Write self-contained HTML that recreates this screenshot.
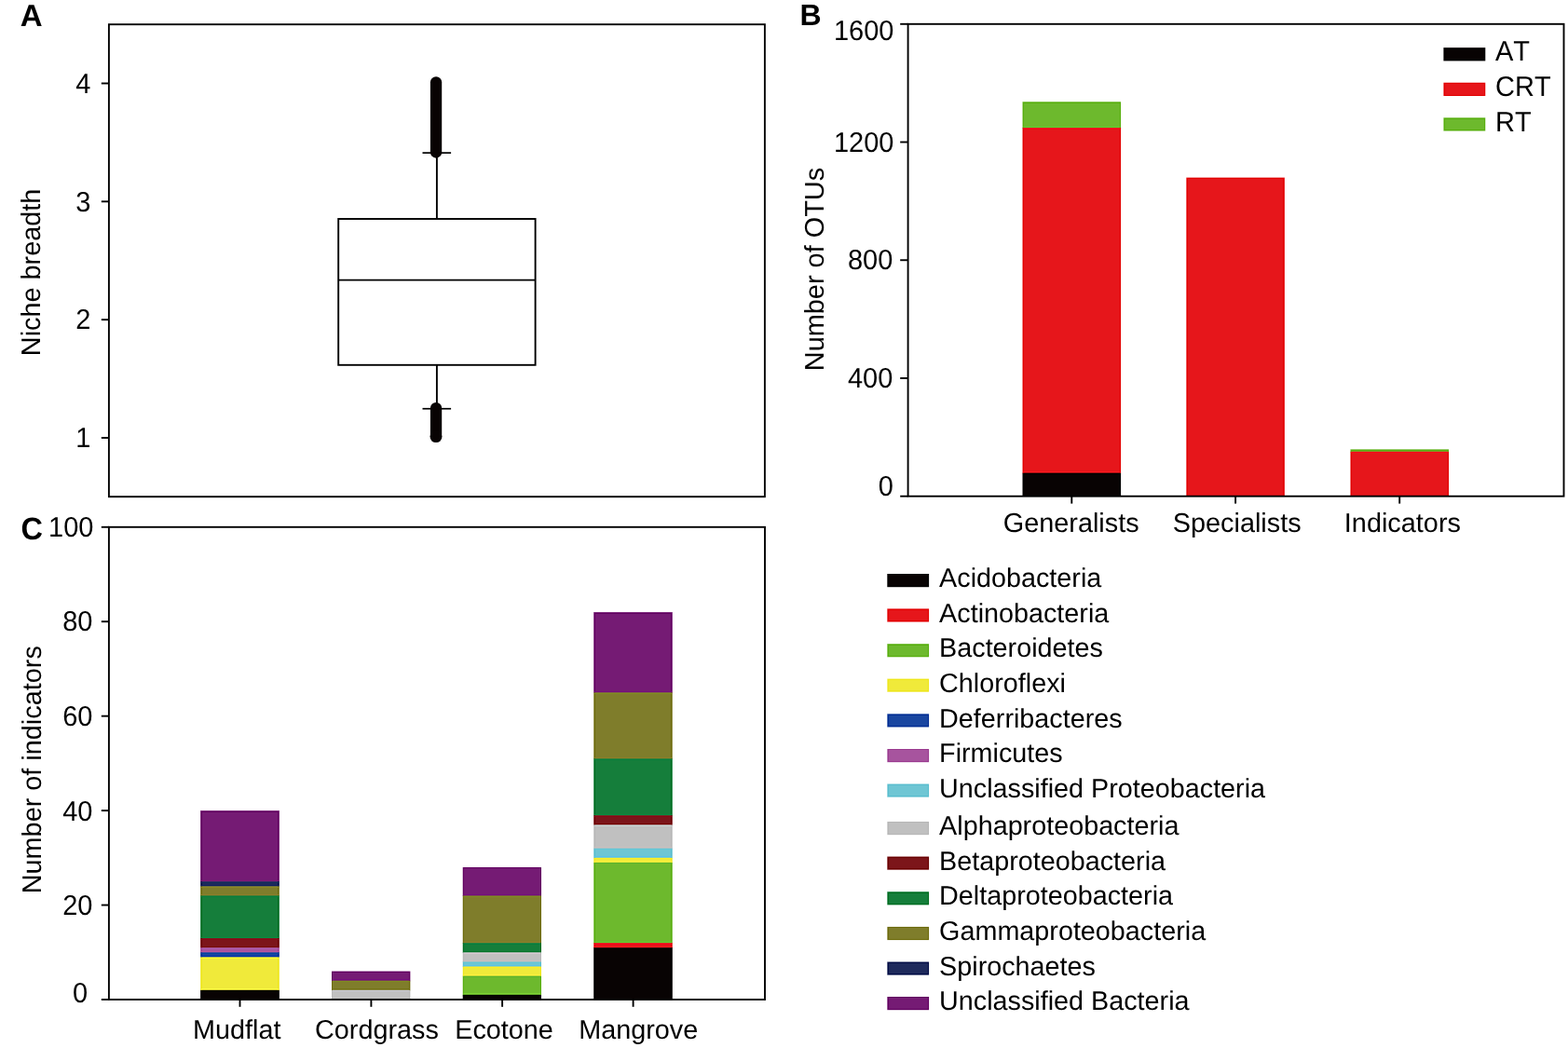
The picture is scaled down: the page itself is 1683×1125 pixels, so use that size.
<!DOCTYPE html>
<html lang="en">
<head>
<meta charset="utf-8">
<title>Figure</title>
<style>
html,body{margin:0;padding:0;background:#fff;}
body{width:1683px;height:1125px;overflow:hidden;}
svg{display:block;font-family:"Liberation Sans",Arial,Helvetica,sans-serif;fill:#000;text-rendering:geometricPrecision;font-kerning:none;font-variant-ligatures:none;}
</style>
</head>
<body>
<svg width="1683" height="1125" viewBox="0 0 1683 1125">
<rect x="0" y="0" width="1683" height="1125" fill="#fff"/>
<g id="panel-a">
<rect x="116.90" y="26.20" width="704.00" height="507.00" fill="none" stroke="#000" stroke-width="1.9"/>
<line x1="108.80" y1="89.50" x2="116.90" y2="89.50" stroke="#000" stroke-width="1.9" stroke-linecap="butt"/>
<text transform="translate(97.30 99.80) scale(1 1.041)" font-size="29" text-anchor="end">4</text>
<line x1="108.80" y1="216.33" x2="116.90" y2="216.33" stroke="#000" stroke-width="1.9" stroke-linecap="butt"/>
<text transform="translate(97.30 226.63) scale(1 1.041)" font-size="29" text-anchor="end">3</text>
<line x1="108.80" y1="343.17" x2="116.90" y2="343.17" stroke="#000" stroke-width="1.9" stroke-linecap="butt"/>
<text transform="translate(97.30 353.47) scale(1 1.041)" font-size="29" text-anchor="end">2</text>
<line x1="108.80" y1="470.00" x2="116.90" y2="470.00" stroke="#000" stroke-width="1.9" stroke-linecap="butt"/>
<text transform="translate(97.30 480.30) scale(1 1.041)" font-size="29" text-anchor="end">1</text>
<text x="43.50" y="382.20" font-size="28.85" transform="rotate(-90 43.50 382.20)">Niche breadth</text>
<text x="21.70" y="27.95" font-size="33" font-weight="bold">A</text>
<rect x="363.2" y="235.0" width="211.4" height="156.8" fill="#fff" stroke="#000" stroke-width="1.9"/>
<line x1="363.20" y1="300.60" x2="574.60" y2="300.60" stroke="#000" stroke-width="1.9" stroke-linecap="butt"/>
<line x1="468.90" y1="164.10" x2="468.90" y2="235.00" stroke="#000" stroke-width="1.9" stroke-linecap="butt"/>
<line x1="468.90" y1="391.80" x2="468.90" y2="438.75" stroke="#000" stroke-width="1.9" stroke-linecap="butt"/>
<line x1="453.50" y1="164.10" x2="484.10" y2="164.10" stroke="#000" stroke-width="1.7" stroke-linecap="butt"/>
<line x1="453.50" y1="438.75" x2="484.10" y2="438.75" stroke="#000" stroke-width="1.7" stroke-linecap="butt"/>
<line x1="468.05" y1="88.35" x2="468.05" y2="163.50" stroke="#080303" stroke-width="12.3" stroke-linecap="round"/>
<line x1="468.05" y1="438.05" x2="468.05" y2="466.00" stroke="#080303" stroke-width="12.3" stroke-linecap="round"/>
<circle cx="468.0" cy="468.55" r="6.5" fill="#080303"/>
</g>
<g id="panel-b">
<rect x="1097.50" y="109.20" width="105.60" height="28.45" fill="#6DB92D"/>
<rect x="1097.50" y="137.05" width="105.60" height="371.25" fill="#E6161B"/>
<rect x="1097.50" y="507.70" width="105.60" height="25.00" fill="#080303"/>
<rect x="1098.00" y="507.70" width="1.00" height="25.00" fill="#000000"/>
<rect x="1202.00" y="507.70" width="1.00" height="25.00" fill="#000000"/>
<rect x="1098.00" y="137.05" width="1.00" height="370.65" fill="#E20000"/>
<rect x="1202.00" y="137.05" width="1.00" height="370.65" fill="#E20000"/>
<rect x="1098.00" y="110.00" width="1.00" height="27.05" fill="#57AE0E"/>
<rect x="1202.00" y="110.00" width="1.00" height="27.05" fill="#57AE0E"/>
<rect x="1098.00" y="110.00" width="105.00" height="1.00" fill="#57AE0E"/>
<rect x="1098.50" y="506.00" width="103.60" height="1.00" fill="#FF191F"/>
<rect x="1098.50" y="508.00" width="103.60" height="1.00" fill="#000000"/>
<rect x="1098.50" y="136.00" width="103.60" height="1.00" fill="#5BD130"/>
<rect x="1098.50" y="138.00" width="103.60" height="1.00" fill="#F80018"/>
<rect x="1273.30" y="190.60" width="105.60" height="342.10" fill="#E6161B"/>
<rect x="1274.00" y="191.00" width="1.00" height="341.70" fill="#E20000"/>
<rect x="1377.00" y="191.00" width="1.00" height="341.70" fill="#E20000"/>
<rect x="1274.00" y="191.00" width="104.00" height="1.00" fill="#E20000"/>
<rect x="1449.45" y="482.30" width="105.60" height="3.10" fill="#6DB92D"/>
<rect x="1449.45" y="484.80" width="105.60" height="47.90" fill="#E6161B"/>
<rect x="1450.00" y="484.80" width="1.00" height="47.90" fill="#E20000"/>
<rect x="1554.00" y="484.80" width="1.00" height="47.90" fill="#E20000"/>
<rect x="1450.00" y="483.00" width="1.00" height="1.80" fill="#57AE0E"/>
<rect x="1554.00" y="483.00" width="1.00" height="1.80" fill="#57AE0E"/>
<rect x="1450.00" y="483.00" width="105.00" height="1.00" fill="#57AE0E"/>
<rect x="1450.45" y="485.00" width="103.60" height="1.00" fill="#F80018"/>
<rect x="974.60" y="25.80" width="703.90" height="506.90" fill="none" stroke="#000" stroke-width="1.9"/>
<line x1="966.20" y1="25.80" x2="974.60" y2="25.80" stroke="#000" stroke-width="1.9" stroke-linecap="butt"/>
<line x1="966.20" y1="152.53" x2="974.60" y2="152.53" stroke="#000" stroke-width="1.9" stroke-linecap="butt"/>
<line x1="966.20" y1="279.25" x2="974.60" y2="279.25" stroke="#000" stroke-width="1.9" stroke-linecap="butt"/>
<line x1="966.20" y1="405.98" x2="974.60" y2="405.98" stroke="#000" stroke-width="1.9" stroke-linecap="butt"/>
<line x1="966.20" y1="532.70" x2="974.60" y2="532.70" stroke="#000" stroke-width="1.9" stroke-linecap="butt"/>
<text transform="translate(959.50 42.90) scale(1 1.041)" font-size="29" text-anchor="end">1600</text>
<text transform="translate(959.50 162.90) scale(1 1.041)" font-size="29" text-anchor="end">1200</text>
<text transform="translate(958.35 289.10) scale(1 1.041)" font-size="29" text-anchor="end">800</text>
<text transform="translate(958.35 416.40) scale(1 1.041)" font-size="29" text-anchor="end">400</text>
<text transform="translate(959.00 532.00) scale(1 1.041)" font-size="29" text-anchor="end">0</text>
<line x1="1150.30" y1="532.70" x2="1150.30" y2="540.60" stroke="#000" stroke-width="1.9" stroke-linecap="butt"/>
<text x="1149.70" y="571.35" font-size="28.85" text-anchor="middle">Generalists</text>
<line x1="1326.10" y1="532.70" x2="1326.10" y2="540.60" stroke="#000" stroke-width="1.9" stroke-linecap="butt"/>
<text x="1327.70" y="571.35" font-size="28.85" text-anchor="middle">Specialists</text>
<line x1="1502.20" y1="532.70" x2="1502.20" y2="540.60" stroke="#000" stroke-width="1.9" stroke-linecap="butt"/>
<text x="1505.40" y="571.35" font-size="28.85" text-anchor="middle">Indicators</text>
<text x="883.80" y="398.20" font-size="28.9" transform="rotate(-90 883.80 398.20)">Number of OTUs</text>
<text x="858.50" y="27.10" font-size="32" font-weight="bold">B</text>
<rect x="1549.40" y="51.10" width="44.90" height="14.30" fill="#080303"/>
<rect x="1550.00" y="52.00" width="1.00" height="13.00" fill="#000000"/>
<rect x="1593.00" y="52.00" width="1.00" height="13.00" fill="#000000"/>
<rect x="1550.00" y="52.00" width="44.00" height="1.00" fill="#000000"/>
<rect x="1550.00" y="64.00" width="44.00" height="1.00" fill="#000000"/>
<text transform="translate(1605.00 65.40) scale(1 1.041)" font-size="29">AT</text>
<rect x="1549.40" y="88.70" width="44.90" height="14.30" fill="#E6161B"/>
<rect x="1550.00" y="89.00" width="1.00" height="14.00" fill="#E20000"/>
<rect x="1593.00" y="89.00" width="1.00" height="14.00" fill="#E20000"/>
<rect x="1550.00" y="89.00" width="44.00" height="1.00" fill="#E20000"/>
<rect x="1550.00" y="102.00" width="44.00" height="1.00" fill="#E20000"/>
<text transform="translate(1605.00 103.00) scale(1 1.041)" font-size="29">CRT</text>
<rect x="1549.40" y="126.30" width="44.90" height="14.30" fill="#6DB92D"/>
<rect x="1550.00" y="127.00" width="1.00" height="13.00" fill="#57AE0E"/>
<rect x="1593.00" y="127.00" width="1.00" height="13.00" fill="#57AE0E"/>
<rect x="1550.00" y="127.00" width="44.00" height="1.00" fill="#57AE0E"/>
<rect x="1550.00" y="139.00" width="44.00" height="1.00" fill="#57AE0E"/>
<text transform="translate(1605.00 140.60) scale(1 1.041)" font-size="29">RT</text>
</g>
<g id="panel-c">
<rect x="215.10" y="870.12" width="84.80" height="76.68" fill="#751B74"/>
<rect x="215.10" y="946.20" width="84.80" height="5.67" fill="#1E2A5C"/>
<rect x="215.10" y="951.27" width="84.80" height="10.74" fill="#7F7D2B"/>
<rect x="215.10" y="961.42" width="84.80" height="46.25" fill="#157E3B"/>
<rect x="215.10" y="1007.06" width="84.80" height="10.74" fill="#7C151A"/>
<rect x="215.10" y="1017.21" width="84.80" height="5.67" fill="#A7549E"/>
<rect x="215.10" y="1022.28" width="84.80" height="5.67" fill="#1946A0"/>
<rect x="215.10" y="1027.35" width="84.80" height="36.10" fill="#F0EA3A"/>
<rect x="215.10" y="1062.86" width="84.80" height="10.14" fill="#080303"/>
<rect x="216.00" y="1062.86" width="1.00" height="10.14" fill="#000000"/>
<rect x="298.00" y="1062.86" width="1.00" height="10.14" fill="#000000"/>
<rect x="216.00" y="1027.35" width="1.00" height="35.50" fill="#EEE71C"/>
<rect x="298.00" y="1027.35" width="1.00" height="35.50" fill="#EEE71C"/>
<rect x="216.00" y="1022.28" width="1.00" height="5.07" fill="#002A92"/>
<rect x="298.00" y="1022.28" width="1.00" height="5.07" fill="#002A92"/>
<rect x="216.00" y="1017.21" width="1.00" height="5.07" fill="#9A3A8F"/>
<rect x="298.00" y="1017.21" width="1.00" height="5.07" fill="#9A3A8F"/>
<rect x="216.00" y="1007.06" width="1.00" height="10.14" fill="#680000"/>
<rect x="298.00" y="1007.06" width="1.00" height="10.14" fill="#680000"/>
<rect x="216.00" y="961.42" width="1.00" height="45.65" fill="#006B1E"/>
<rect x="298.00" y="961.42" width="1.00" height="45.65" fill="#006B1E"/>
<rect x="216.00" y="951.27" width="1.00" height="10.14" fill="#6C6A0B"/>
<rect x="298.00" y="951.27" width="1.00" height="10.14" fill="#6C6A0B"/>
<rect x="216.00" y="946.20" width="1.00" height="5.07" fill="#000A44"/>
<rect x="298.00" y="946.20" width="1.00" height="5.07" fill="#000A44"/>
<rect x="216.00" y="871.00" width="1.00" height="75.20" fill="#60005F"/>
<rect x="298.00" y="871.00" width="1.00" height="75.20" fill="#60005F"/>
<rect x="216.00" y="871.00" width="83.00" height="1.00" fill="#60005F"/>
<rect x="216.10" y="1061.00" width="82.80" height="1.00" fill="#FFFF42"/>
<rect x="216.10" y="1063.00" width="82.80" height="1.00" fill="#000000"/>
<rect x="216.10" y="1026.00" width="82.80" height="1.00" fill="#002DAF"/>
<rect x="216.10" y="1028.00" width="82.80" height="1.00" fill="#FFFF2B"/>
<rect x="216.10" y="1021.00" width="82.80" height="1.00" fill="#BC569E"/>
<rect x="216.10" y="1023.00" width="82.80" height="1.00" fill="#0444A0"/>
<rect x="216.10" y="1016.00" width="82.80" height="1.00" fill="#760C06"/>
<rect x="216.10" y="1018.00" width="82.80" height="1.00" fill="#AD5DB2"/>
<rect x="216.10" y="1006.00" width="82.80" height="1.00" fill="#068E40"/>
<rect x="216.10" y="1008.00" width="82.80" height="1.00" fill="#8B0515"/>
<rect x="216.10" y="960.00" width="82.80" height="1.00" fill="#8F7D29"/>
<rect x="216.10" y="962.00" width="82.80" height="1.00" fill="#057E3D"/>
<rect x="216.10" y="950.00" width="82.80" height="1.00" fill="#0F1E63"/>
<rect x="216.10" y="952.00" width="82.80" height="1.00" fill="#8E8924"/>
<rect x="216.10" y="945.00" width="82.80" height="1.00" fill="#821978"/>
<rect x="216.10" y="947.00" width="82.80" height="1.00" fill="#112C58"/>
<rect x="356.00" y="1042.57" width="84.40" height="10.74" fill="#751B74"/>
<rect x="356.00" y="1052.71" width="84.40" height="10.74" fill="#7F7D2B"/>
<rect x="356.00" y="1062.86" width="84.40" height="10.14" fill="#C0C0C0"/>
<rect x="356.00" y="1062.86" width="1.00" height="10.14" fill="#B7B7B7"/>
<rect x="439.00" y="1062.86" width="1.00" height="10.14" fill="#B7B7B7"/>
<rect x="356.00" y="1052.71" width="1.00" height="10.14" fill="#6C6A0B"/>
<rect x="439.00" y="1052.71" width="1.00" height="10.14" fill="#6C6A0B"/>
<rect x="356.00" y="1043.00" width="1.00" height="9.71" fill="#60005F"/>
<rect x="439.00" y="1043.00" width="1.00" height="9.71" fill="#60005F"/>
<rect x="356.00" y="1043.00" width="84.00" height="1.00" fill="#60005F"/>
<rect x="357.00" y="1061.00" width="82.40" height="1.00" fill="#757315"/>
<rect x="357.00" y="1063.00" width="82.40" height="1.00" fill="#CACAD6"/>
<rect x="357.00" y="1051.00" width="82.40" height="1.00" fill="#740C7F"/>
<rect x="357.00" y="1053.00" width="82.40" height="1.00" fill="#808C20"/>
<rect x="496.70" y="930.98" width="84.30" height="31.03" fill="#751B74"/>
<rect x="496.70" y="961.42" width="84.30" height="51.32" fill="#7F7D2B"/>
<rect x="496.70" y="1012.14" width="84.30" height="10.74" fill="#157E3B"/>
<rect x="496.70" y="1022.28" width="84.30" height="10.74" fill="#C0C0C0"/>
<rect x="496.70" y="1032.42" width="84.30" height="5.67" fill="#6EC6D4"/>
<rect x="496.70" y="1037.50" width="84.30" height="10.74" fill="#F0EA3A"/>
<rect x="496.70" y="1047.64" width="84.30" height="20.89" fill="#6DB92D"/>
<rect x="496.70" y="1067.93" width="84.30" height="5.07" fill="#080303"/>
<rect x="497.00" y="1067.93" width="1.00" height="5.07" fill="#000000"/>
<rect x="580.00" y="1067.93" width="1.00" height="5.07" fill="#000000"/>
<rect x="497.00" y="1047.64" width="1.00" height="20.29" fill="#57AE0E"/>
<rect x="580.00" y="1047.64" width="1.00" height="20.29" fill="#57AE0E"/>
<rect x="497.00" y="1037.50" width="1.00" height="10.14" fill="#EEE71C"/>
<rect x="580.00" y="1037.50" width="1.00" height="10.14" fill="#EEE71C"/>
<rect x="497.00" y="1032.42" width="1.00" height="5.07" fill="#58BDCE"/>
<rect x="580.00" y="1032.42" width="1.00" height="5.07" fill="#58BDCE"/>
<rect x="497.00" y="1022.28" width="1.00" height="10.14" fill="#B7B7B7"/>
<rect x="580.00" y="1022.28" width="1.00" height="10.14" fill="#B7B7B7"/>
<rect x="497.00" y="1012.14" width="1.00" height="10.14" fill="#006B1E"/>
<rect x="580.00" y="1012.14" width="1.00" height="10.14" fill="#006B1E"/>
<rect x="497.00" y="961.42" width="1.00" height="50.72" fill="#6C6A0B"/>
<rect x="580.00" y="961.42" width="1.00" height="50.72" fill="#6C6A0B"/>
<rect x="497.00" y="931.00" width="1.00" height="30.42" fill="#60005F"/>
<rect x="580.00" y="931.00" width="1.00" height="30.42" fill="#60005F"/>
<rect x="497.00" y="931.00" width="84.00" height="1.00" fill="#60005F"/>
<rect x="497.70" y="1066.00" width="82.30" height="1.00" fill="#7CD433"/>
<rect x="497.70" y="1068.00" width="82.30" height="1.00" fill="#000000"/>
<rect x="497.70" y="1046.00" width="82.30" height="1.00" fill="#FFF13C"/>
<rect x="497.70" y="1048.00" width="82.30" height="1.00" fill="#59B22B"/>
<rect x="497.70" y="1036.00" width="82.30" height="1.00" fill="#5AC1EB"/>
<rect x="497.70" y="1038.00" width="82.30" height="1.00" fill="#FFEF23"/>
<rect x="497.70" y="1031.00" width="82.30" height="1.00" fill="#CCBFBD"/>
<rect x="497.70" y="1033.00" width="82.30" height="1.00" fill="#62C7D7"/>
<rect x="497.70" y="1021.00" width="82.30" height="1.00" fill="#007427"/>
<rect x="497.70" y="1023.00" width="82.30" height="1.00" fill="#DACAD4"/>
<rect x="497.70" y="1011.00" width="82.30" height="1.00" fill="#8F7D29"/>
<rect x="497.70" y="1013.00" width="82.30" height="1.00" fill="#057E3D"/>
<rect x="497.70" y="960.00" width="82.30" height="1.00" fill="#740C7F"/>
<rect x="497.70" y="962.00" width="82.30" height="1.00" fill="#808C20"/>
<rect x="637.20" y="657.10" width="84.60" height="86.82" fill="#751B74"/>
<rect x="637.20" y="743.32" width="84.60" height="71.61" fill="#7F7D2B"/>
<rect x="637.20" y="814.33" width="84.60" height="61.46" fill="#157E3B"/>
<rect x="637.20" y="875.19" width="84.60" height="10.74" fill="#7C151A"/>
<rect x="637.20" y="885.34" width="84.60" height="25.96" fill="#C0C0C0"/>
<rect x="637.20" y="910.70" width="84.60" height="10.74" fill="#6EC6D4"/>
<rect x="637.20" y="920.84" width="84.60" height="5.67" fill="#F0EA3A"/>
<rect x="637.20" y="925.91" width="84.60" height="86.82" fill="#6DB92D"/>
<rect x="637.20" y="1012.14" width="84.60" height="5.67" fill="#E6161B"/>
<rect x="637.20" y="1017.21" width="84.60" height="55.79" fill="#080303"/>
<rect x="638.00" y="1017.21" width="1.00" height="55.79" fill="#000000"/>
<rect x="720.00" y="1017.21" width="1.00" height="55.79" fill="#000000"/>
<rect x="638.00" y="1012.14" width="1.00" height="5.07" fill="#E20000"/>
<rect x="720.00" y="1012.14" width="1.00" height="5.07" fill="#E20000"/>
<rect x="638.00" y="925.91" width="1.00" height="86.22" fill="#57AE0E"/>
<rect x="720.00" y="925.91" width="1.00" height="86.22" fill="#57AE0E"/>
<rect x="638.00" y="920.84" width="1.00" height="5.07" fill="#EEE71C"/>
<rect x="720.00" y="920.84" width="1.00" height="5.07" fill="#EEE71C"/>
<rect x="638.00" y="910.70" width="1.00" height="10.14" fill="#58BDCE"/>
<rect x="720.00" y="910.70" width="1.00" height="10.14" fill="#58BDCE"/>
<rect x="638.00" y="885.34" width="1.00" height="25.36" fill="#B7B7B7"/>
<rect x="720.00" y="885.34" width="1.00" height="25.36" fill="#B7B7B7"/>
<rect x="638.00" y="875.19" width="1.00" height="10.14" fill="#680000"/>
<rect x="720.00" y="875.19" width="1.00" height="10.14" fill="#680000"/>
<rect x="638.00" y="814.33" width="1.00" height="60.86" fill="#006B1E"/>
<rect x="720.00" y="814.33" width="1.00" height="60.86" fill="#006B1E"/>
<rect x="638.00" y="743.32" width="1.00" height="71.01" fill="#6C6A0B"/>
<rect x="720.00" y="743.32" width="1.00" height="71.01" fill="#6C6A0B"/>
<rect x="638.00" y="658.00" width="1.00" height="85.32" fill="#60005F"/>
<rect x="720.00" y="658.00" width="1.00" height="85.32" fill="#60005F"/>
<rect x="638.00" y="658.00" width="83.00" height="1.00" fill="#60005F"/>
<rect x="638.20" y="1016.00" width="82.60" height="1.00" fill="#FF191F"/>
<rect x="638.20" y="1018.00" width="82.60" height="1.00" fill="#000000"/>
<rect x="638.20" y="1011.00" width="82.60" height="1.00" fill="#5BD130"/>
<rect x="638.20" y="1013.00" width="82.60" height="1.00" fill="#F80018"/>
<rect x="638.20" y="924.00" width="82.60" height="1.00" fill="#FFF13C"/>
<rect x="638.20" y="926.00" width="82.60" height="1.00" fill="#59B22B"/>
<rect x="638.20" y="919.00" width="82.60" height="1.00" fill="#5AC1EB"/>
<rect x="638.20" y="921.00" width="82.60" height="1.00" fill="#FFEF23"/>
<rect x="638.20" y="909.00" width="82.60" height="1.00" fill="#CCBFBD"/>
<rect x="638.20" y="911.00" width="82.60" height="1.00" fill="#62C7D7"/>
<rect x="638.20" y="884.00" width="82.60" height="1.00" fill="#720001"/>
<rect x="638.20" y="886.00" width="82.60" height="1.00" fill="#CADAD9"/>
<rect x="638.20" y="874.00" width="82.60" height="1.00" fill="#068E40"/>
<rect x="638.20" y="876.00" width="82.60" height="1.00" fill="#8B0515"/>
<rect x="638.20" y="813.00" width="82.60" height="1.00" fill="#8F7D29"/>
<rect x="638.20" y="815.00" width="82.60" height="1.00" fill="#057E3D"/>
<rect x="638.20" y="742.00" width="82.60" height="1.00" fill="#740C7F"/>
<rect x="638.20" y="744.00" width="82.60" height="1.00" fill="#808C20"/>
<rect x="116.90" y="565.80" width="704.10" height="507.20" fill="none" stroke="#000" stroke-width="1.9"/>
<line x1="108.80" y1="565.80" x2="116.90" y2="565.80" stroke="#000" stroke-width="1.9" stroke-linecap="butt"/>
<line x1="108.80" y1="667.24" x2="116.90" y2="667.24" stroke="#000" stroke-width="1.9" stroke-linecap="butt"/>
<line x1="108.80" y1="768.68" x2="116.90" y2="768.68" stroke="#000" stroke-width="1.9" stroke-linecap="butt"/>
<line x1="108.80" y1="870.12" x2="116.90" y2="870.12" stroke="#000" stroke-width="1.9" stroke-linecap="butt"/>
<line x1="108.80" y1="971.56" x2="116.90" y2="971.56" stroke="#000" stroke-width="1.9" stroke-linecap="butt"/>
<line x1="108.80" y1="1073.00" x2="116.90" y2="1073.00" stroke="#000" stroke-width="1.9" stroke-linecap="butt"/>
<text transform="translate(100.40 576.15) scale(1 1.041)" font-size="29" text-anchor="end">100</text>
<text transform="translate(99.40 677.10) scale(1 1.041)" font-size="29" text-anchor="end">80</text>
<text transform="translate(99.40 778.60) scale(1 1.041)" font-size="29" text-anchor="end">60</text>
<text transform="translate(99.50 880.70) scale(1 1.041)" font-size="29" text-anchor="end">40</text>
<text transform="translate(99.50 981.70) scale(1 1.041)" font-size="29" text-anchor="end">20</text>
<text transform="translate(94.20 1076.40) scale(1 1.041)" font-size="29" text-anchor="end">0</text>
<line x1="257.50" y1="1073.00" x2="257.50" y2="1080.80" stroke="#000" stroke-width="1.9" stroke-linecap="butt"/>
<text x="207.00" y="1115.30" font-size="28.8">Mudflat</text>
<line x1="398.40" y1="1073.00" x2="398.40" y2="1080.80" stroke="#000" stroke-width="1.9" stroke-linecap="butt"/>
<text x="338.00" y="1115.30" font-size="28.8">Cordgrass</text>
<line x1="539.10" y1="1073.00" x2="539.10" y2="1080.80" stroke="#000" stroke-width="1.9" stroke-linecap="butt"/>
<text x="488.20" y="1115.30" font-size="28.8">Ecotone</text>
<line x1="679.60" y1="1073.00" x2="679.60" y2="1080.80" stroke="#000" stroke-width="1.9" stroke-linecap="butt"/>
<text x="621.20" y="1115.30" font-size="28.8">Mangrove</text>
<text x="44.40" y="959.30" font-size="28.85" transform="rotate(-90 44.40 959.30)">Number of indicators</text>
<text transform="translate(22.60 579.10) scale(1 1.035)" font-size="32.5" font-weight="bold">C</text>
</g>
<g id="legend">
<rect x="952.30" y="616.00" width="44.80" height="14.20" fill="#080303"/>
<rect x="953.00" y="616.00" width="1.00" height="14.00" fill="#000000"/>
<rect x="996.00" y="616.00" width="1.00" height="14.00" fill="#000000"/>
<rect x="953.00" y="616.00" width="44.00" height="1.00" fill="#000000"/>
<rect x="953.00" y="629.00" width="44.00" height="1.00" fill="#000000"/>
<text x="1008.10" y="630.20" font-size="28.75">Acidobacteria</text>
<rect x="952.30" y="653.40" width="44.80" height="14.20" fill="#E6161B"/>
<rect x="953.00" y="654.00" width="1.00" height="13.00" fill="#E20000"/>
<rect x="996.00" y="654.00" width="1.00" height="13.00" fill="#E20000"/>
<rect x="953.00" y="654.00" width="44.00" height="1.00" fill="#E20000"/>
<rect x="953.00" y="666.00" width="44.00" height="1.00" fill="#E20000"/>
<text x="1008.10" y="667.60" font-size="28.75">Actinobacteria</text>
<rect x="952.30" y="691.10" width="44.80" height="14.20" fill="#6DB92D"/>
<rect x="953.00" y="692.00" width="1.00" height="13.00" fill="#57AE0E"/>
<rect x="996.00" y="692.00" width="1.00" height="13.00" fill="#57AE0E"/>
<rect x="953.00" y="692.00" width="44.00" height="1.00" fill="#57AE0E"/>
<rect x="953.00" y="704.00" width="44.00" height="1.00" fill="#57AE0E"/>
<text x="1008.10" y="705.30" font-size="28.75">Bacteroidetes</text>
<rect x="952.30" y="728.60" width="44.80" height="14.20" fill="#F0EA3A"/>
<rect x="953.00" y="729.00" width="1.00" height="13.00" fill="#EEE71C"/>
<rect x="996.00" y="729.00" width="1.00" height="13.00" fill="#EEE71C"/>
<rect x="953.00" y="729.00" width="44.00" height="1.00" fill="#EEE71C"/>
<rect x="953.00" y="741.00" width="44.00" height="1.00" fill="#EEE71C"/>
<text x="1008.10" y="742.80" font-size="28.75">Chloroflexi</text>
<rect x="952.30" y="766.30" width="44.80" height="14.20" fill="#1946A0"/>
<rect x="953.00" y="767.00" width="1.00" height="13.00" fill="#002A92"/>
<rect x="996.00" y="767.00" width="1.00" height="13.00" fill="#002A92"/>
<rect x="953.00" y="767.00" width="44.00" height="1.00" fill="#002A92"/>
<rect x="953.00" y="779.00" width="44.00" height="1.00" fill="#002A92"/>
<text x="1008.10" y="780.50" font-size="28.75">Deferribacteres</text>
<rect x="952.30" y="804.00" width="44.80" height="14.20" fill="#A7549E"/>
<rect x="953.00" y="804.00" width="1.00" height="14.00" fill="#9A3A8F"/>
<rect x="996.00" y="804.00" width="1.00" height="14.00" fill="#9A3A8F"/>
<rect x="953.00" y="804.00" width="44.00" height="1.00" fill="#9A3A8F"/>
<rect x="953.00" y="817.00" width="44.00" height="1.00" fill="#9A3A8F"/>
<text x="1008.10" y="818.20" font-size="28.75">Firmicutes</text>
<rect x="952.30" y="841.50" width="44.80" height="14.20" fill="#6EC6D4"/>
<rect x="953.00" y="842.00" width="1.00" height="13.00" fill="#58BDCE"/>
<rect x="996.00" y="842.00" width="1.00" height="13.00" fill="#58BDCE"/>
<rect x="953.00" y="842.00" width="44.00" height="1.00" fill="#58BDCE"/>
<rect x="953.00" y="854.00" width="44.00" height="1.00" fill="#58BDCE"/>
<text x="1008.10" y="855.70" font-size="28.75">Unclassified Proteobacteria</text>
<rect x="952.30" y="882.00" width="44.80" height="14.20" fill="#C0C0C0"/>
<rect x="953.00" y="882.00" width="1.00" height="14.00" fill="#B7B7B7"/>
<rect x="996.00" y="882.00" width="1.00" height="14.00" fill="#B7B7B7"/>
<rect x="953.00" y="882.00" width="44.00" height="1.00" fill="#B7B7B7"/>
<rect x="953.00" y="895.00" width="44.00" height="1.00" fill="#B7B7B7"/>
<text x="1008.10" y="896.20" font-size="28.75">Alphaproteobacteria</text>
<rect x="952.30" y="919.50" width="44.80" height="14.20" fill="#7C151A"/>
<rect x="953.00" y="920.00" width="1.00" height="13.00" fill="#680000"/>
<rect x="996.00" y="920.00" width="1.00" height="13.00" fill="#680000"/>
<rect x="953.00" y="920.00" width="44.00" height="1.00" fill="#680000"/>
<rect x="953.00" y="932.00" width="44.00" height="1.00" fill="#680000"/>
<text x="1008.10" y="933.70" font-size="28.75">Betaproteobacteria</text>
<rect x="952.30" y="957.20" width="44.80" height="14.20" fill="#157E3B"/>
<rect x="953.00" y="958.00" width="1.00" height="13.00" fill="#006B1E"/>
<rect x="996.00" y="958.00" width="1.00" height="13.00" fill="#006B1E"/>
<rect x="953.00" y="958.00" width="44.00" height="1.00" fill="#006B1E"/>
<rect x="953.00" y="970.00" width="44.00" height="1.00" fill="#006B1E"/>
<text x="1008.10" y="971.40" font-size="28.75">Deltaproteobacteria</text>
<rect x="952.30" y="994.90" width="44.80" height="14.20" fill="#7F7D2B"/>
<rect x="953.00" y="995.00" width="1.00" height="14.00" fill="#6C6A0B"/>
<rect x="996.00" y="995.00" width="1.00" height="14.00" fill="#6C6A0B"/>
<rect x="953.00" y="995.00" width="44.00" height="1.00" fill="#6C6A0B"/>
<rect x="953.00" y="1008.00" width="44.00" height="1.00" fill="#6C6A0B"/>
<text x="1008.10" y="1009.10" font-size="28.75">Gammaproteobacteria</text>
<rect x="952.30" y="1032.50" width="44.80" height="14.20" fill="#1E2A5C"/>
<rect x="953.00" y="1033.00" width="1.00" height="13.00" fill="#000A44"/>
<rect x="996.00" y="1033.00" width="1.00" height="13.00" fill="#000A44"/>
<rect x="953.00" y="1033.00" width="44.00" height="1.00" fill="#000A44"/>
<rect x="953.00" y="1045.00" width="44.00" height="1.00" fill="#000A44"/>
<text x="1008.10" y="1046.70" font-size="28.75">Spirochaetes</text>
<rect x="952.30" y="1070.00" width="44.80" height="14.20" fill="#751B74"/>
<rect x="953.00" y="1070.00" width="1.00" height="14.00" fill="#60005F"/>
<rect x="996.00" y="1070.00" width="1.00" height="14.00" fill="#60005F"/>
<rect x="953.00" y="1070.00" width="44.00" height="1.00" fill="#60005F"/>
<rect x="953.00" y="1083.00" width="44.00" height="1.00" fill="#60005F"/>
<text x="1008.10" y="1084.20" font-size="28.75">Unclassified Bacteria</text>
</g>
</svg>
</body>
</html>
